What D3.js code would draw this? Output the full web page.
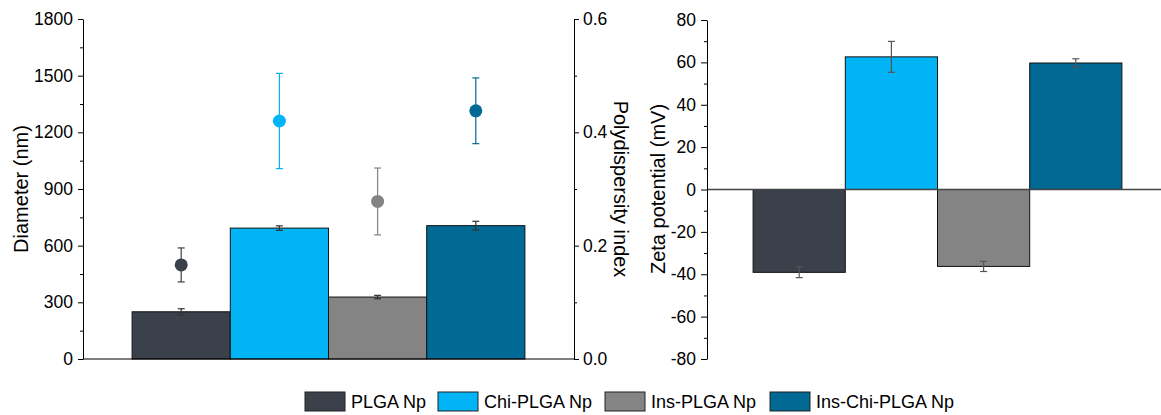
<!DOCTYPE html>
<html>
<head>
<meta charset="utf-8">
<script src="https://cdn.jsdelivr.net/npm/d3@7"></script>
<style>
  body { margin: 0; background: #fff; }
  svg { display: block; font-family: "Liberation Sans", Arial, sans-serif; }
  .axis text { font-size: 17.5px; fill: #000; }
  .axis path, .axis line { stroke: #000; }
</style>
</head>
<body>
<div id="chart"></div>
<script>
const W = 1161;
const H = 415;

const samples = ['PLGA Np', 'Chi-PLGA Np', 'Ins-PLGA Np', 'Ins-Chi-PLGA Np'];
const colors = ['#3a414a', '#00b4f5', '#848484', '#006994'];
const diameter = [250, 693, 328, 706];
const diameterErr = [16, 12, 9, 23];
const pdi = [0.166, 0.42, 0.278, 0.438];
const pdiErr = [0.03, 0.084, 0.059, 0.058];
const zeta = [-39.1, 62.6, -36.3, 59.7];
const zetaErr = [2.5, 7.3, 2.4, 2.0];
const diameterTicks = [0, 300, 600, 900, 1200, 1500, 1800];
const pdiTicks = [0, 0.2, 0.4, 0.6];
const zetaTicks = [-80, -60, -40, -20, 0, 20, 40, 60, 80];

const TOP = 19;
const BOTTOM = 359;

const svg = d3.select('#chart')
  .append('svg')
  .attr('width', W)
  .attr('height', H);

// ---- left panel: diameter bars + PDI points ----
const x1 = d3.scaleBand().domain(samples).range([83, 574]).paddingInner(0).paddingOuter(0.5);
const yDia = d3.scaleLinear().domain([0, 1800]).range([BOTTOM, TOP]);
const yPdi = d3.scaleLinear().domain([0, 0.6]).range([BOTTOM, TOP]);

const left = svg.append('g');

left.selectAll('rect.bar')
  .data(samples)
  .enter()
  .append('rect')
  .attr('class', 'bar')
  .attr('x', d => x1(d))
  .attr('width', x1.bandwidth())
  .attr('y', (d, i) => yDia(diameter[i]))
  .attr('height', (d, i) => BOTTOM - yDia(diameter[i]))
  .attr('fill', (d, i) => colors[i])
  .attr('stroke', '#111')
  .attr('stroke-width', 1);

function errBar(g, cx, yLo, yHi, color, cap) {
  g.append('line').attr('x1', cx).attr('x2', cx).attr('y1', yLo).attr('y2', yHi)
    .attr('stroke', color).attr('stroke-width', 1.2);
  g.append('line').attr('x1', cx - cap).attr('x2', cx + cap).attr('y1', yLo).attr('y2', yLo)
    .attr('stroke', color).attr('stroke-width', 1.2);
  g.append('line').attr('x1', cx - cap).attr('x2', cx + cap).attr('y1', yHi).attr('y2', yHi)
    .attr('stroke', color).attr('stroke-width', 1.2);
}

samples.forEach((s, i) => {
  const cx = x1(s) + x1.bandwidth() / 2;
  errBar(left, cx, yDia(diameter[i] - diameterErr[i]), yDia(diameter[i] + diameterErr[i]), '#333', 3.5);
  errBar(left, cx, yPdi(pdi[i] - pdiErr[i]), yPdi(pdi[i] + pdiErr[i]), colors[i], 3.5);
});

left.selectAll('circle')
  .data(samples)
  .enter()
  .append('circle')
  .attr('cx', d => x1(d) + x1.bandwidth() / 2)
  .attr('cy', (d, i) => yPdi(pdi[i]))
  .attr('r', 6.5)
  .attr('fill', (d, i) => colors[i]);

// x baseline
left.append('line')
  .attr('x1', 83).attr('x2', 574).attr('y1', BOTTOM).attr('y2', BOTTOM)
  .attr('stroke', '#000').attr('stroke-width', 1.2);

const plain = d => String(d);

const minorDia = d3.range(150, 1800, 300);
left.append('g').attr('class', 'axis').attr('transform', 'translate(83,0)')
  .call(d3.axisLeft(yDia).tickValues(minorDia).tickSize(3).tickFormat(''))
  .call(g => g.select('.domain').remove());
left.append('g').attr('class', 'axis').attr('transform', 'translate(83,0)')
  .call(d3.axisLeft(yDia).tickValues(diameterTicks).tickSize(5).tickPadding(5).tickSizeOuter(0).tickFormat(plain));

const minorPdi = [0.1, 0.3, 0.5];
left.append('g').attr('class', 'axis').attr('transform', 'translate(574,0)')
  .call(d3.axisRight(yPdi).tickValues(minorPdi).tickSize(3).tickFormat(''))
  .call(g => g.select('.domain').remove());
left.append('g').attr('class', 'axis').attr('transform', 'translate(574,0)')
  .call(d3.axisRight(yPdi).tickValues(pdiTicks).tickSize(5).tickPadding(4).tickSizeOuter(0).tickFormat(d3.format('.1f')));

left.append('text')
  .attr('transform', `translate(28,${(TOP + BOTTOM) / 2}) rotate(-90)`)
  .attr('text-anchor', 'middle')
  .style('font-size', '20px')
  .text('Diameter (nm)');

left.append('text')
  .attr('transform', `translate(614,${(TOP + BOTTOM) / 2}) rotate(90)`)
  .attr('text-anchor', 'middle')
  .style('font-size', '20px')
  .text('Polydispersity index');

// ---- right panel: zeta potential ----
const x2 = d3.scaleBand().domain(samples).range([707, 1168]).paddingInner(0).paddingOuter(0.5);
const yZeta = d3.scaleLinear().domain([-80, 80]).range([BOTTOM, TOP + 1]);

const right = svg.append('g');

right.selectAll('rect.bar')
  .data(samples)
  .enter()
  .append('rect')
  .attr('class', 'bar')
  .attr('x', d => x2(d))
  .attr('width', x2.bandwidth())
  .attr('y', (d, i) => yZeta(Math.max(0, zeta[i])))
  .attr('height', (d, i) => Math.abs(yZeta(zeta[i]) - yZeta(0)))
  .attr('fill', (d, i) => colors[i])
  .attr('stroke', '#111')
  .attr('stroke-width', 1);

samples.forEach((s, i) => {
  const cx = x2(s) + x2.bandwidth() / 2;
  errBar(right, cx, yZeta(zeta[i] - zetaErr[i]), yZeta(zeta[i] + zetaErr[i]), '#555', 3.5);
});

right.append('line')
  .attr('x1', 707).attr('x2', W).attr('y1', yZeta(0)).attr('y2', yZeta(0))
  .attr('stroke', '#444').attr('stroke-width', 1.5);

const minorZeta = d3.range(-70, 80, 20);
right.append('g').attr('class', 'axis').attr('transform', 'translate(707,0)')
  .call(d3.axisLeft(yZeta).tickValues(minorZeta).tickSize(3).tickFormat(''))
  .call(g => g.select('.domain').remove());
right.append('g').attr('class', 'axis').attr('transform', 'translate(707,0)')
  .call(d3.axisLeft(yZeta).tickValues(zetaTicks).tickSize(6).tickPadding(5).tickSizeOuter(0).tickFormat(plain));

right.append('text')
  .attr('transform', `translate(665,${(TOP + BOTTOM) / 2}) rotate(-90)`)
  .attr('text-anchor', 'middle')
  .style('font-size', '20px')
  .text('Zeta potential (mV)');

// ---- legend ----
const legendX = [305, 438, 605, 770];
const legend = svg.append('g');
samples.forEach((s, i) => {
  const g = legend.append('g').attr('transform', `translate(${legendX[i]},392)`);
  g.append('rect').attr('width', 40).attr('height', 19)
    .attr('fill', colors[i]).attr('stroke', '#222').attr('stroke-width', 1);
  g.append('text').attr('x', 46).attr('y', 16).style('font-size', '18px').text(s);
});
</script>
</body>
</html>
